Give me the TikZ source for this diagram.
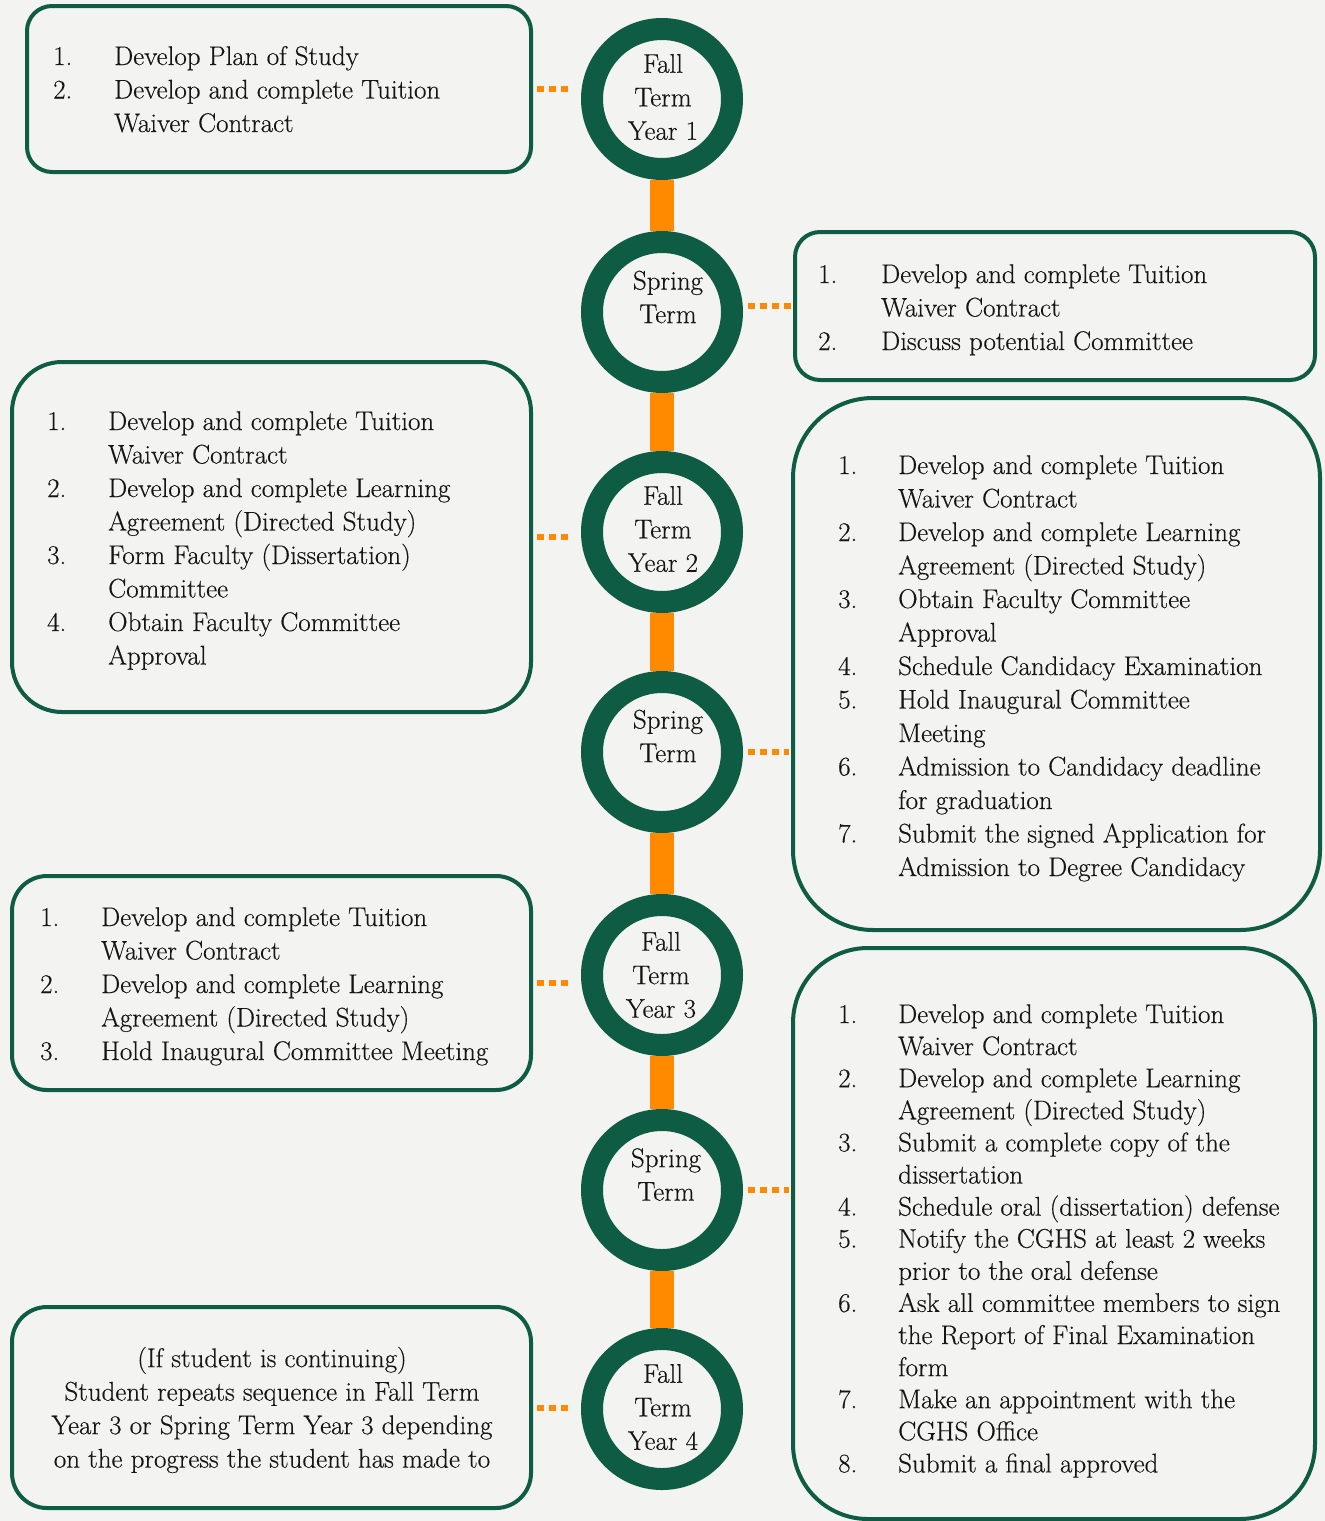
\documentclass[tikz,border=0pt]{standalone}
\usepackage{fontspec}
\setmainfont{Latin Modern Roman}[UprightFeatures={FakeBold=0.35}]
\definecolor{tgreen}{HTML}{0E5C43}
\definecolor{torange}{HTML}{FF8A00}
\definecolor{bg}{HTML}{F3F3F1}
\definecolor{ink}{HTML}{151515}
\tikzset{
  x=1pt, y=-1pt,
  box/.style={draw=tgreen, line width=4pt, rounded corners=#1, inner sep=0pt},
  circ/.style={circle, draw=tgreen, line width=22pt, minimum size=140pt, inner sep=0pt, fill=bg},
  bar/.style={draw=torange, line width=24pt},
  dots/.style={draw=torange, line width=6pt, dash pattern=on 7pt off 5pt},
  txt/.style={inner sep=0pt, text=ink, font=\fontsize{27}{33.5}\selectfont},
  txtb/.style={inner sep=0pt, text=ink, font=\fontsize{27}{32.1}\selectfont},
  ctxt/.style={txt, align=center},
}
\begin{document}
\begin{tikzpicture}
\useasboundingbox (0,0) rectangle (1325,1521);
\fill[bg] (0,0) rectangle (1325,1521);

% boxes
\node[box=25pt, minimum width=504pt, minimum height=166pt] (b1) at (279,89) {};
\node[box=25pt, minimum width=520pt, minimum height=148pt] (b2) at (1055,306) {};
\node[box=50pt, minimum width=519pt, minimum height=350pt] (b3) at (271.5,537) {};
\node[box=80pt, minimum width=527pt, minimum height=532pt] (b4) at (1056.5,664) {};
\node[box=35pt, minimum width=519pt, minimum height=214pt] (b5) at (271.5,983) {};
\node[box=75pt, minimum width=522pt, minimum height=571pt] (b6) at (1054,1233.5) {};
\node[box=35pt, minimum width=519pt, minimum height=201pt] (b7) at (271.5,1407.5) {};

% circles
\node[circ] (c1) at (662,99) {};
\node[circ] (c2) at (662,312) {};
\node[circ] (c3) at (662,532) {};
\node[circ] (c4) at (662,752) {};
\node[circ] (c5) at (662,975) {};
\node[circ] (c6) at (662,1190) {};
\node[circ] (c7) at (662,1409) {};

\node[ctxt] (l1) at (663,97) {Fall\\Term\\Year 1};
\node[ctxt] (l2) at (668,297) {Spring\\Term};
\node[ctxt] (l3) at (663,529) {Fall\\Term\\Year 2};
\node[ctxt] (l4) at (668,736) {Spring\\Term};
\node[ctxt] (l5) at (661,975) {Fall\\Term\\Year 3};
\node[ctxt] (l6) at (666,1174.5) {Spring\\Term};
\node[ctxt] (l7) at (663,1407) {Fall\\Term\\Year 4};

% orange bars
\foreach \a/\b in {c1/c2,c2/c3,c3/c4,c4/c5,c5/c6,c6/c7}
  \draw[bar] (\a.south) -- (\b.north);

% dotted connectors
\draw[dots, shorten <=4pt, shorten >=9pt] (b1.east) -- (b1.east -| c1.west);
\draw[dots, shorten <=5pt, shorten >=2pt] (c2.east |- b2.west) -- (b2.west);
\draw[dots, shorten <=4pt, shorten >=9pt] (b3.east) -- (b3.east -| c3.west);
\draw[dots, shorten <=5pt, shorten >=2pt] (c4.east) -- (c4.east -| b4.west);
\draw[dots, shorten <=4pt, shorten >=9pt] (b5.east) -- (b5.east -| c5.west);
\draw[dots, shorten <=5pt, shorten >=2pt] (c6.east) -- (c6.east -| b6.west);
\draw[dots, shorten <=4pt, shorten >=9pt] (b7.east) -- (b7.east -| c7.west);

% texts
\node[txt, anchor=base west] (t1) at (53,65) {\begin{tabular}[t]{@{}p{61pt}@{}l@{}}
1. & Develop Plan of Study\\
2. & Develop and complete Tuition\\
   & Waiver Contract
\end{tabular}};

\node[txt, anchor=base west] (t2) at (818,283) {\begin{tabular}[t]{@{}p{63pt}@{}l@{}}
1. & Develop and complete Tuition\\
   & Waiver Contract\\
2. & Discuss potential Committee
\end{tabular}};

\node[txt, anchor=base west] (t3) at (47,430) {\begin{tabular}[t]{@{}p{61pt}@{}l@{}}
1. & Develop and complete Tuition\\
   & Waiver Contract\\
2. & Develop and complete Learning\\
   & Agreement (Directed Study)\\
3. & Form Faculty (Dissertation)\\
   & Committee\\
4. & Obtain Faculty Committee\\
   & Approval
\end{tabular}};

\node[txt, anchor=base west] (t4) at (838,474) {\begin{tabular}[t]{@{}p{60pt}@{}l@{}}
1. & Develop and complete Tuition\\
   & Waiver Contract\\
2. & Develop and complete Learning\\
   & Agreement (Directed Study)\\
3. & Obtain Faculty Committee\\
   & Approval\\
4. & Schedule Candidacy Examination\\
5. & Hold Inaugural Committee\\
   & Meeting\\
6. & Admission to Candidacy deadline\\
   & for graduation\\
7. & Submit the signed Application for\\
   & Admission to Degree Candidacy
\end{tabular}};

\node[txt, anchor=base west] (t5) at (40,926) {\begin{tabular}[t]{@{}p{61pt}@{}l@{}}
1. & Develop and complete Tuition\\
   & Waiver Contract\\
2. & Develop and complete Learning\\
   & Agreement (Directed Study)\\
3. & Hold Inaugural Committee Meeting
\end{tabular}};

\node[txtb, anchor=base west] (t6) at (838,1023) {\begin{tabular}[t]{@{}p{60pt}@{}l@{}}
1. & Develop and complete Tuition\\
   & Waiver Contract\\
2. & Develop and complete Learning\\
   & Agreement (Directed Study)\\
3. & Submit a complete copy of the\\
   & dissertation\\
4. & Schedule oral (dissertation) defense\\
5. & Notify the CGHS at least 2 weeks\\
   & prior to the oral defense\\
6. & Ask all committee members to sign\\
   & the Report of Final Examination\\
   & form\\
7. & Make an appointment with the\\
   & CGHS Office\\
8. & Submit a final approved
\end{tabular}};

\node[ctxt] (t7) at (272,1410) {(If student is continuing)\\
Student repeats sequence in Fall Term\\
Year 3 or Spring Term Year 3 depending\\
on the progress the student has made to};
\end{tikzpicture}
\end{document}
